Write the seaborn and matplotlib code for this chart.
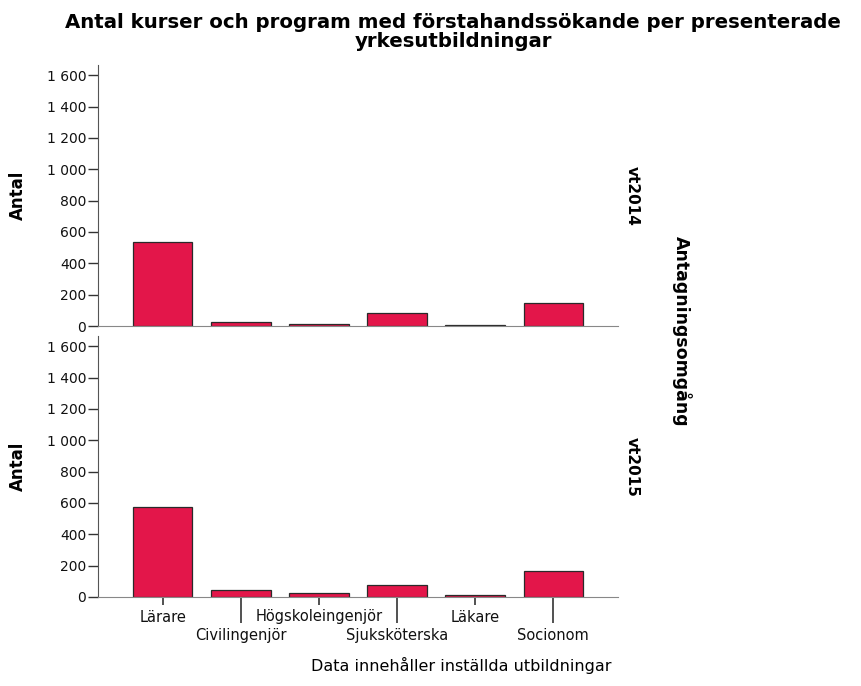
import pandas as pd
import numpy as np
import seaborn as sns
import matplotlib.pyplot as plt

utbildningar = ['Lärare', 'Civilingenjör', 'Högskoleingenjör', 'Sjuksköterska', 'Läkare', 'Socionom']
omgangar = ['vt2014', 'vt2015']
antal_vt2014 = [536, 28, 15, 85, 8, 149]
antal_vt2015 = [575, 42, 28, 74, 11, 163]
y_ticks = [0, 200, 400, 600, 800, 1000, 1200, 1400, 1600]

dt = pd.DataFrame({
    'utbildning': utbildningar * 2,
    'omgang': [omgangar[0]] * 6 + [omgangar[1]] * 6,
    'antal': antal_vt2014 + antal_vt2015,
})

sns.set_style('ticks')
plt.rcParams['font.family'] = ['DejaVu Sans']
plt.rcParams['text.color'] = 'black'

bar_color = '#E3164A'

fig = plt.figure(figsize=(8.62, 6.86), dpi=100)
W, H = 862, 686
ax_left, ax_width = 98 / W, 520 / W
panels = [(65, 326), (336, 597)]

for i, omg in enumerate(omgangar):
    top, bottom = panels[i]
    ax = fig.add_axes([ax_left, 1 - bottom / H, ax_width, (bottom - top) / H])
    sub = dt[dt['omgang'] == omg]
    sns.barplot(data=sub, x='utbildning', y='antal', order=utbildningar,
                color=bar_color, edgecolor='#2a2a2a', linewidth=0.9,
                width=0.76, saturation=1, ax=ax)
    ax.set_xlim(-0.83, 5.83)
    ax.set_ylim(0, 1665)
    ax.set_yticks(y_ticks)
    ax.set_yticklabels([f'{v:,}'.replace(',', ' ') for v in y_ticks])
    ax.tick_params(axis='y', length=7, width=1, pad=1.5, labelsize=10,
                   color='#333333', labelcolor='#111111')
    ax.spines['top'].set_visible(False)
    ax.spines['right'].set_visible(False)
    ax.spines['left'].set_color('#555555')
    ax.spines['bottom'].set_color('#888888')
    ax.set_ylabel('')
    ax.set_xlabel('')

    if i == 1:
        ax.set_xticks([0, 2, 4], [utbildningar[k] for k in (0, 2, 4)])
        ax.set_xticks([1, 3, 5], [utbildningar[k] for k in (1, 3, 5)], minor=True)
        ax.tick_params(axis='x', which='major', length=6, width=1.2, pad=3,
                       labelsize=10.5, color='#333333', labelcolor='#111111')
        ax.tick_params(axis='x', which='minor', length=19, width=1.2, pad=3,
                       labelsize=10.5, color='#333333', labelcolor='#111111')
    else:
        ax.set_xticks([])
        ax.set_xticks([], minor=True)

    mid = 1 - (top + bottom) / 2 / H
    fig.text(18 / W, mid, 'Antal', rotation=90, ha='center', va='center',
             fontsize=12, fontweight='bold')
    fig.text(632 / W, mid, omg, rotation=270, ha='center', va='center',
             fontsize=11, fontweight='bold')

fig.text(682 / W, 1 - 331 / H, 'Antagningsomgång', rotation=270,
         ha='center', va='center', fontsize=12.5, fontweight='bold')
fig.text(453 / W, 1 - 32 / H,
         'Antal kurser och program med förstahandssökande per presenterade\nyrkesutbildningar',
         ha='center', va='center', fontsize=14.2, fontweight='bold', linespacing=0.95)
fig.text(461 / W, 1 - 665 / H, 'Data innehåller inställda utbildningar',
         ha='center', va='center', fontsize=11.5)

fig.savefig('out.png', dpi=100)
